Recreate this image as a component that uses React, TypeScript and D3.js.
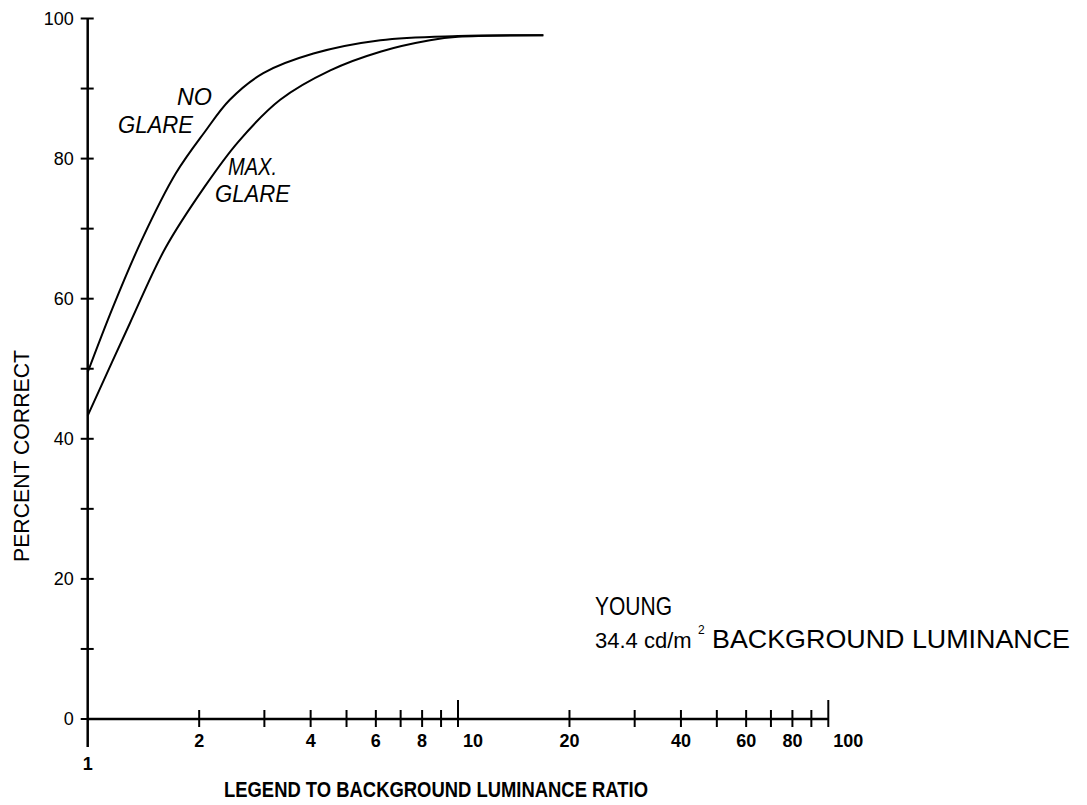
import React from 'react'
import * as d3 from 'd3'

// ratio (log axis) and percent correct
const noGlareRatio = [1, 1.17, 1.4, 1.73, 2.07, 2.42, 2.98, 4.07, 6.17, 10, 17]
const noGlarePct = [49.5, 58.8, 68.4, 77.9, 83.8, 88.4, 92.2, 95.0, 96.9, 97.5, 97.6]
const maxGlareRatio = [1, 1.3, 1.62, 2.07, 2.55, 3.31, 4.52, 6.2, 8.4, 10, 17]
const maxGlarePct = [43.3, 56.5, 67.2, 76.0, 82.4, 88.4, 92.6, 95.3, 96.9, 97.4, 97.6]

const xTicks = [1, 2, 3, 4, 5, 6, 7, 8, 9, 10, 20, 30, 40, 50, 60, 70, 80, 90, 100]
const xLabels = [1, 2, 4, 6, 8, 10, 20, 40, 60, 80, 100]
const yTicks = [0, 10, 20, 30, 40, 50, 60, 70, 80, 90, 100]
const yLabels = [0, 20, 40, 60, 80, 100]

const width = 1087
const height = 805
const font = '"Liberation Sans", Arial, sans-serif'

export default function App() {
  const x = d3.scaleLog().domain([1, 100]).range([87.7, 828.3])
  const y = d3.scaleLinear().domain([0, 100]).range([719, 18.5])

  const line = d3.line<[number, number]>()
    .x((d) => x(d[0]))
    .y((d) => y(d[1]))
    .curve(d3.curveCatmullRom.alpha(0.5))

  const noGlare = noGlareRatio.map((r, i) => [r, noGlarePct[i]] as [number, number])
  const maxGlare = maxGlareRatio.map((r, i) => [r, maxGlarePct[i]] as [number, number])

  const x0 = x(1)
  const y0 = y(0)

  return (
    <svg width={width} height={height} style={{ position: 'absolute', left: 0, top: 0, background: '#fff' }}>
      {/* axes */}
      <line x1={x0} x2={x0} y1={y(100)} y2={y0 + 28} stroke="#000" strokeWidth={2.5} />
      <line x1={x0} x2={x(100)} y1={y0} y2={y0} stroke="#000" strokeWidth={2.5} />

      {yTicks.map((t) => (
        <line key={'yt' + t} x1={x0 - 7} x2={x0 + 6} y1={y(t)} y2={y(t)} stroke="#000" strokeWidth={2} />
      ))}
      {yLabels.map((t) => (
        <text key={'yl' + t} x={x0 - 14} y={y(t)} dy="0.36em" textAnchor="end"
          fontFamily={font} fontSize={18}>{t}</text>
      ))}

      {xTicks.slice(1).map((t) => (
        <line key={'xt' + t} x1={x(t)} x2={x(t)}
          y1={t === 10 || t === 100 ? y0 - 19 : y0 - 9} y2={y0 + 8}
          stroke="#000" strokeWidth={2} />
      ))}
      {xLabels.map((t) => (
        <text key={'xl' + t}
          x={t === 10 || t === 100 ? x(t) + 5 : x(t)}
          y={t === 1 ? 770 : 747}
          textAnchor={t === 10 || t === 100 ? 'start' : 'middle'}
          fontFamily={font} fontSize={18} fontWeight="bold">{t}</text>
      ))}

      {/* curves */}
      <path d={line(noGlare) ?? ''} fill="none" stroke="#000" strokeWidth={2} />
      <path d={line(maxGlare) ?? ''} fill="none" stroke="#000" strokeWidth={2} />

      {/* curve labels */}
      <g fontFamily={font} fontStyle="italic" fontSize={23}>
        <text x={177} y={105} textLength={35} lengthAdjust="spacingAndGlyphs">NO</text>
        <text x={118} y={133} textLength={75} lengthAdjust="spacingAndGlyphs">GLARE</text>
        <text x={228} y={175} textLength={49} lengthAdjust="spacingAndGlyphs">MAX.</text>
        <text x={215} y={202} textLength={75} lengthAdjust="spacingAndGlyphs">GLARE</text>
      </g>

      {/* axis titles */}
      <text transform="translate(29,456) rotate(-90)" textAnchor="middle" fontFamily={font}
        fontSize={22} textLength={212} lengthAdjust="spacingAndGlyphs">PERCENT CORRECT</text>
      <text x={224} y={797} fontFamily={font} fontSize={22} fontWeight="bold"
        textLength={424} lengthAdjust="spacingAndGlyphs">LEGEND TO BACKGROUND LUMINANCE RATIO</text>

      {/* condition note */}
      <text x={595} y={615} fontFamily={font} fontSize={25} textLength={77}
        lengthAdjust="spacingAndGlyphs">YOUNG</text>
      <text x={595} y={648} fontFamily={font} fontSize={22}>34.4 cd/m</text>
      <text x={698} y={634} fontFamily={font} fontSize={12}>2</text>
      <text x={712} y={648} fontFamily={font} fontSize={25} textLength={358}
        lengthAdjust="spacingAndGlyphs">BACKGROUND LUMINANCE</text>
    </svg>
  )
}
